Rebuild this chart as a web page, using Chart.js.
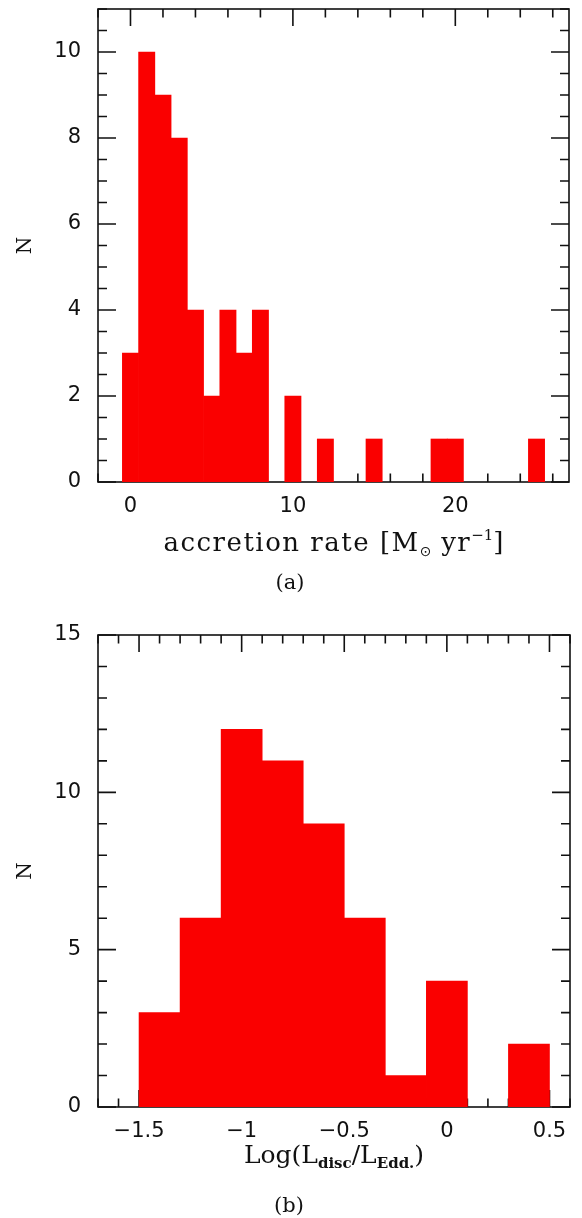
<!DOCTYPE html>
<html>
<head>
<meta charset="utf-8">
<script src="https://cdn.jsdelivr.net/npm/chart.js@4.4.1/dist/chart.umd.min.js"></script>
<style>
  html, body { margin: 0; padding: 0; background: #fff; }
  body { width: 582px; height: 1218px; position: relative; overflow: hidden; }
  canvas { position: absolute; left: 0; }
</style>
</head>
<body>
<canvas id="rate" width="582" height="610" style="top:0"></canvas>
<canvas id="edd" width="582" height="608" style="top:610px"></canvas>
<script>
// panel (a): accretion rate, bins of 1 Msun/yr centred on integers
const rateBins = [0, 1, 2, 3, 4, 5, 6, 7, 8, 9, 10, 11, 12, 13, 14, 15, 16, 17, 18, 19, 20, 21, 22, 23, 24, 25];
const rateCounts = [3, 10, 9, 8, 4, 2, 4, 3, 4, 0, 2, 0, 1, 0, 0, 1, 0, 0, 0, 1, 1, 0, 0, 0, 0, 1];
const rateXTicks = [0, 10, 20];
const rateYTicks = [0, 2, 4, 6, 8, 10];

// panel (b): log Eddington ratio, 0.2 dex bins
const eddBins = [-1.4, -1.2, -1.0, -0.8, -0.6, -0.4, -0.2, 0.0, 0.2, 0.4];
const eddCounts = [3, 6, 12, 11, 9, 6, 1, 4, 0, 2];
const eddXTicks = [-1.5, -1, -0.5, 0, 0.5];
const eddYTicks = [0, 5, 10, 15];

const RED = "rgb(250, 0, 0)";
const INK = "#111";
const TICK_FONT = { family: "DejaVu Sans", size: 21 };

Chart.defaults.color = INK;
Chart.defaults.animation = false;

function fmt(v) {
  return v < 0 ? "\u2212" + Math.abs(v) : String(v);
}

function drawParts(ctx, parts, cx, baseY) {
  ctx.save();
  ctx.fillStyle = INK;
  ctx.textAlign = "left";
  ctx.textBaseline = "alphabetic";
  let total = 0;
  parts.forEach(p => {
    ctx.font = p.font;
    ctx.letterSpacing = p.ls || "0px";
    p.w = ctx.measureText(p.text).width;
    total += p.w;
  });
  let x = cx - total / 2;
  parts.forEach(p => {
    ctx.font = p.font;
    ctx.letterSpacing = p.ls || "0px";
    ctx.fillText(p.text, x, baseY + (p.dy || 0));
    x += p.w;
  });
  ctx.restore();
}

// box frame with inward major/minor ticks on all four sides, plus the
// x-axis title and panel caption that need sub/superscripts
const framePlugin = {
  id: "frame",
  beforeDatasetsDraw(chart, args, o) {
    const { ctx, chartArea: a, scales: { x, y } } = chart;
    ctx.save();
    ctx.strokeStyle = INK;
    ctx.lineWidth = 1.6;
    ctx.strokeRect(a.left, a.top, a.right - a.left, a.bottom - a.top);

    const marks = (scale, minor, major) => {
      const out = [];
      const n0 = Math.ceil(scale.min / minor - 1e-6);
      const n1 = Math.floor(scale.max / minor + 1e-6);
      for (let n = n0; n <= n1; n++) {
        const v = n * minor;
        const r = v / major;
        out.push({ px: scale.getPixelForValue(v), big: Math.abs(r - Math.round(r)) < 1e-6 });
      }
      return out;
    };
    ctx.beginPath();
    marks(x, o.xMinor, o.xMajor).forEach(m => {
      const len = m.big ? 17 : 8.5;
      ctx.moveTo(m.px, a.top); ctx.lineTo(m.px, a.top + len);
      ctx.moveTo(m.px, a.bottom); ctx.lineTo(m.px, a.bottom - len);
    });
    marks(y, o.yMinor, o.yMajor).forEach(m => {
      const len = m.big ? 18 : 9;
      ctx.moveTo(a.left, m.px); ctx.lineTo(a.left + len, m.px);
      ctx.moveTo(a.right, m.px); ctx.lineTo(a.right - len, m.px);
    });
    ctx.stroke();
    ctx.restore();
  },
  afterDraw(chart, args, o) {
    const { ctx, chartArea: a } = chart;
    drawParts(ctx, o.title, (a.left + a.right) / 2, o.titleY);
    drawParts(ctx, [{ text: o.caption, font: '21px "DejaVu Serif"' }], o.captionX, o.captionY);
  }
};

function noEdgePadding(s) {
  s.paddingTop = 0;
  s.paddingBottom = 0;
  s.paddingLeft = 0;
  s.paddingRight = 0;
}

function histogram(id, bins, counts, opts) {
  return new Chart(document.getElementById(id), {
    type: "bar",
    data: {
      datasets: [{
        data: bins.map((b, i) => ({ x: b, y: counts[i] })),
        backgroundColor: c => (c.raw && c.raw.y > 0 ? RED : "rgba(0,0,0,0)"),
        borderWidth: 0,
        barPercentage: 1,
        categoryPercentage: 1
      }]
    },
    options: {
      responsive: false,
      devicePixelRatio: 1,
      layout: { padding: { top: opts.padTop, right: opts.padRight, left: 0, bottom: 0 } },
      plugins: {
        legend: { display: false },
        tooltip: { enabled: false },
        frame: opts.frame
      },
      scales: {
        x: {
          type: "linear",
          min: opts.xMin,
          max: opts.xMax,
          offset: false,
          grid: { display: false, drawTicks: false, offset: false },
          border: { display: false },
          afterBuildTicks: s => { s.ticks = opts.xTicks.map(v => ({ value: v })); },
          afterFit: s => { s.height = opts.xAxisHeight; noEdgePadding(s); },
          ticks: { font: TICK_FONT, padding: 12, autoSkip: false, maxRotation: 0, callback: fmt }
        },
        y: {
          min: 0,
          max: opts.yMax,
          grid: { display: false, drawTicks: false },
          border: { display: false },
          afterBuildTicks: s => { s.ticks = opts.yTicks.map(v => ({ value: v })); },
          afterFit: s => { s.width = 98; noEdgePadding(s); },
          ticks: { font: TICK_FONT, padding: 17, autoSkip: false, callback: fmt },
          title: { display: true, text: "N", font: { family: "DejaVu Serif", size: 20 }, padding: { top: 14 } }
        }
      }
    },
    plugins: [framePlugin]
  });
}

const big = '26px "DejaVu Serif"';
histogram("rate", rateBins, rateCounts, {
  padTop: 9, padRight: 13, xAxisHeight: 128,
  xMin: -2, xMax: 27, yMax: 11,
  xTicks: rateXTicks, yTicks: rateYTicks,
  frame: {
    xMinor: 2, xMajor: 10, yMinor: 0.5, yMajor: 2,
    title: [
      { text: "accretion rate [M", font: big, ls: "1.5px" },
      { text: "\u2299", font: '14px "DejaVu Sans"', dy: 5 },
      { text: " yr", font: big, ls: "1.5px" },
      { text: "\u22121", font: '15px "DejaVu Serif"', dy: -11 },
      { text: "]", font: big }
    ],
    titleY: 551, caption: "(a)", captionX: 290, captionY: 589
  }
});

const mid = '25px "DejaVu Serif"';
const sub = 'bold 15px "DejaVu Serif"';
histogram("edd", eddBins, eddCounts, {
  padTop: 25, padRight: 12, xAxisHeight: 111,
  xMin: -1.7, xMax: 0.6, yMax: 15,
  xTicks: eddXTicks, yTicks: eddYTicks,
  frame: {
    xMinor: 0.1, xMajor: 0.5, yMinor: 1, yMajor: 5,
    title: [
      { text: "Log(L", font: mid },
      { text: "disc", font: sub, dy: 5 },
      { text: "/L", font: mid },
      { text: "Edd.", font: sub, dy: 5 },
      { text: ")", font: mid }
    ],
    titleY: 553, caption: "(b)", captionX: 289, captionY: 602
  }
});
</script>
</body>
</html>
